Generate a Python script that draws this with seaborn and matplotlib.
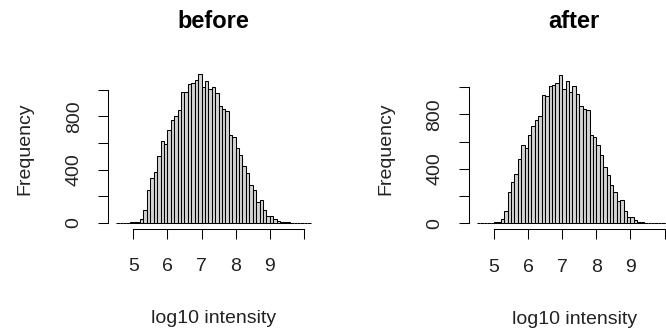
import numpy as np
import pandas as pd
import matplotlib
matplotlib.use("Agg")
import matplotlib.pyplot as plt
import seaborn as sns

# Histogram bins: left edges of 0.1-wide bins on the log10 intensity scale
bin_left = [4.5, 4.6, 4.7, 4.8, 4.9, 5.0, 5.1, 5.2, 5.3, 5.4, 5.5, 5.6, 5.7, 5.8, 5.9,
            6.0, 6.1, 6.2, 6.3, 6.4, 6.5, 6.6, 6.7, 6.8, 6.9, 7.0, 7.1, 7.2, 7.3, 7.4,
            7.5, 7.6, 7.7, 7.8, 7.9, 8.0, 8.1, 8.2, 8.3, 8.4, 8.5, 8.6, 8.7, 8.8, 8.9,
            9.0, 9.1, 9.2, 9.3, 9.4, 9.5, 9.6, 9.7, 9.8, 9.9, 10.0, 10.1]
bin_width = 0.1

counts_before = [0, 0, 1, 1, 2, 3, 8, 30, 95, 244, 335, 384, 503, 616, 590,
                 696, 774, 804, 849, 980, 985, 1043, 1050, 1075, 1116, 1018, 1068, 1005, 1020, 975,
                 879, 859, 842, 658, 646, 565, 508, 427, 377, 286, 246, 156, 171, 95, 50,
                 50, 25, 12, 5, 3, 2, 1, 1, 1, 0, 0, 1]

counts_after = [0, 0, 1, 2, 3, 5, 12, 30, 86, 226, 305, 364, 472, 577, 553,
                649, 717, 757, 786, 943, 939, 1012, 1020, 1032, 1091, 988, 1047, 963, 1007, 951,
                860, 840, 830, 651, 634, 577, 499, 413, 356, 280, 231, 160, 172, 93, 49,
                49, 25, 12, 6, 3, 2, 1, 1, 0, 1, 0, 0]

panel_titles = ["before", "after"]
x_ticks = [5, 6, 7, 8, 9, 10]
x_tick_labels = ["5", "6", "7", "8", "9", ""]
y_ticks = [0, 200, 400, 600, 800, 1000]
y_tick_labels = ["0", "", "400", "", "800", ""]

sns.set_style("white")
plt.rcParams["font.family"] = ["Liberation Sans", "DejaVu Sans"]

W, H = 666, 331
fig = plt.figure(figsize=(W / 100, H / 100), dpi=100)

edges = [round(v, 2) for v in bin_left] + [round(bin_left[-1] + bin_width, 2)]
centers = [round(v + bin_width / 2, 3) for v in bin_left]

# plot regions in pixel coordinates (left, top, right, bottom)
regions = [(108.4, 68.5, 318.5, 228.6), (469.1, 69.0, 679.2, 229.1)]

for counts, title, (l, t, r, b) in zip([counts_before, counts_after], panel_titles, regions):
    ax = fig.add_axes([l / W, 1 - b / H, (r - l) / W, (b - t) / H])
    df = pd.DataFrame({"intensity": centers, "n": counts})
    sns.histplot(data=df, x="intensity", weights="n", bins=edges, ax=ax,
                 color="#D3D3D3", edgecolor="black", linewidth=0.75, alpha=1)

    lo, hi = edges[0], edges[-1]
    pad = 0.04 * (hi - lo)
    ax.set_xlim(lo - pad, hi + pad)
    ymax = max(counts)
    ax.set_ylim(-0.04 * ymax, 1.04 * ymax)

    for side in ["top", "right"]:
        ax.spines[side].set_visible(False)
    ax.spines["left"].set_bounds(0, 1000)
    ax.spines["bottom"].set_bounds(5, 10)
    for side in ["left", "bottom"]:
        ax.spines[side].set_linewidth(0.75)
        ax.spines[side].set_color("black")

    ax.set_xticks(x_ticks)
    ax.set_xticklabels(x_tick_labels)
    ax.set_yticks(y_ticks)
    ax.set_yticklabels(y_tick_labels, rotation=90, va="center")
    ax.tick_params(axis="x", pad=14)
    ax.tick_params(axis="y", pad=11)
    ax.tick_params(axis="both", direction="out", length=7.5, width=0.75,
                   color="black", labelsize=14, labelcolor="#222222",
                   bottom=True, left=True)

    ax.set_xlabel("log10 intensity", fontsize=14, color="#222222", labelpad=25)
    ax.set_ylabel("Frequency", fontsize=14, color="#222222", labelpad=23)
    ax.grid(False)

    fig.text((l + r) / 2 / W, 1 - 21 / H, title, ha="center", va="center",
             fontsize=17, fontweight="bold", color="black")

fig.savefig("out.png", dpi=100, facecolor="white")
